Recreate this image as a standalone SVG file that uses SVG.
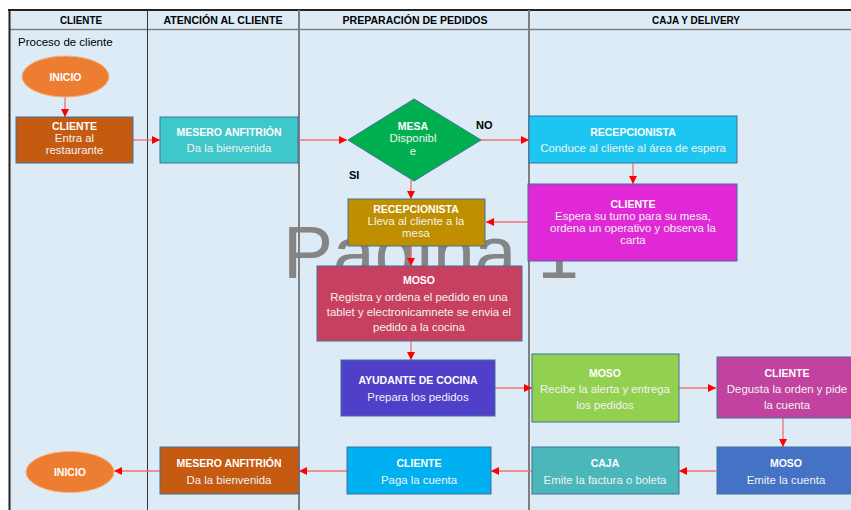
<svg xmlns="http://www.w3.org/2000/svg" width="851" height="510" viewBox="0 0 851 510">
<defs>
<marker id="ah" markerUnits="userSpaceOnUse" markerWidth="9" markerHeight="9" refX="8" refY="4" orient="auto">
<path d="M0,0 L8,4 L0,8 z" fill="#FF0000"/>
</marker>
<style>
.hdr{font-family:"Liberation Sans",Arial,sans-serif;font-weight:bold;font-size:10.5px;fill:#000;text-anchor:middle}
.t{font-family:"Liberation Sans",Arial,sans-serif;font-weight:bold;font-size:10.5px;fill:#fff;text-anchor:middle}
.b{font-family:"Liberation Sans",Arial,sans-serif;font-size:11.4px;fill:#F2F2F2;text-anchor:middle}
.box{stroke:#41719C;stroke-width:1}
.c{fill:none;stroke:#F07272;stroke-width:1.3;marker-end:url(#ah)}
.lbl{font-family:"Liberation Sans",Arial,sans-serif;font-weight:bold;font-size:11px;fill:#000}
</style>
</defs>
<rect x="0" y="0" width="851" height="510" fill="#FFFFFF"/>
<rect x="9" y="10" width="842" height="500" fill="#DDEBF7"/>
<text x="283" y="278" font-family="Liberation Sans,Arial,sans-serif" font-size="75" fill="#858585">Pagina 1</text>
<g id="lanes">
<line x1="9" y1="29.5" x2="851" y2="29.5" stroke="#7F7F7F" stroke-width="1.5"/>
<line x1="8" y1="10" x2="851" y2="10" stroke="#222" stroke-width="2"/>
<line x1="9.5" y1="9" x2="9.5" y2="510" stroke="#222" stroke-width="2"/>
<line x1="147.5" y1="10" x2="147.5" y2="510" stroke="#333" stroke-width="1"/>
<line x1="299" y1="10" x2="299" y2="510" stroke="#7F7F7F" stroke-width="2"/>
<line x1="529" y1="10" x2="529" y2="510" stroke="#7F7F7F" stroke-width="2"/>
<text class="hdr" x="81" y="24" textLength="42" lengthAdjust="spacingAndGlyphs">CLIENTE</text>
<text class="hdr" x="223" y="24" textLength="119" lengthAdjust="spacingAndGlyphs">ATENCIÓN AL CLIENTE</text>
<text class="hdr" x="415" y="24" textLength="145" lengthAdjust="spacingAndGlyphs">PREPARACIÓN DE PEDIDOS</text>
<text class="hdr" x="696" y="24" textLength="88" lengthAdjust="spacingAndGlyphs">CAJA Y DELIVERY</text>
<text x="18" y="46" font-family="Liberation Sans,Arial,sans-serif" font-size="11.5" fill="#000">Proceso de cliente</text>
</g>
<g id="connectors">
<line class="c" x1="65" y1="97" x2="65" y2="117"/>
<line class="c" x1="133" y1="140" x2="160" y2="140"/>
<line class="c" x1="298" y1="140" x2="347" y2="140"/>
<line class="c" x1="481" y1="140" x2="529" y2="140"/>
<line class="c" x1="411" y1="180" x2="411" y2="199"/>
<line class="c" x1="633" y1="163" x2="633" y2="184"/>
<line class="c" x1="528" y1="222" x2="486" y2="222"/>
<line class="c" x1="411" y1="246" x2="411" y2="266"/>
<line class="c" x1="411" y1="341" x2="411" y2="360"/>
<line class="c" x1="495" y1="388" x2="532" y2="388"/>
<line class="c" x1="679" y1="388" x2="716" y2="388"/>
<line class="c" x1="783" y1="418" x2="783" y2="447"/>
<line class="c" x1="716" y1="471" x2="679" y2="471"/>
<line class="c" x1="532" y1="471" x2="491" y2="471"/>
<line class="c" x1="347" y1="471" x2="299" y2="471"/>
<line class="c" x1="160" y1="471" x2="114" y2="471"/>
<text class="lbl" x="476" y="129">NO</text>
<text class="lbl" x="349" y="179">SI</text>
</g>
<g id="inicio1">
<ellipse cx="65.5" cy="76.5" rx="43.5" ry="20.5" fill="#ED7D31" stroke="#F4B183" stroke-width="1"/>
<text class="t" x="65.5" y="80.5">INICIO</text>
</g>
<g id="cliente1">
<rect class="box" x="16" y="117" width="117" height="46" fill="#C55A11"/>
<text class="t" x="74.5" y="130">CLIENTE</text>
<text class="b" x="74.5" y="142">Entra al</text>
<text class="b" x="74.5" y="154">restaurante</text>
</g>
<g id="mesero1">
<rect class="box" x="160" y="117" width="138" height="46" fill="#3FC8CB"/>
<text class="t" x="229" y="136">MESERO ANFITRIÓN</text>
<text class="b" x="229" y="152">Da la bienvenida</text>
</g>
<g id="mesa">
<polygon points="414,99 481,140 414,181 348,140" fill="#00B050" stroke="#41719C" stroke-width="1"/>
<text class="t" x="413" y="130">MESA</text>
<text class="b" x="413" y="142">Disponibl</text>
<text class="b" x="413" y="155">e</text>
</g>
<g id="recepcionista1">
<rect class="box" x="529" y="116" width="208" height="47" fill="#1CC6F0"/>
<text class="t" x="633" y="136">RECEPCIONISTA</text>
<text class="b" x="633" y="152">Conduce al cliente al área de espera</text>
</g>
<g id="cliente2">
<rect class="box" x="528" y="184" width="209" height="77" fill="#E128D6"/>
<text class="t" x="633" y="208">CLIENTE</text>
<text class="b" x="633" y="220">Espera su turno para su mesa,</text>
<text class="b" x="633" y="232">ordena un operativo y observa la</text>
<text class="b" x="633" y="244">carta</text>
</g>
<g id="recepcionista2">
<rect class="box" x="348" y="199" width="137" height="47" fill="#BF8F00"/>
<text class="t" x="416" y="213">RECEPCIONISTA</text>
<text class="b" x="416" y="225">Lleva al cliente a la</text>
<text class="b" x="416" y="237">mesa</text>
</g>
<g id="moso1">
<rect class="box" x="317" y="266" width="205" height="75" fill="#C8405F"/>
<text class="t" x="419" y="284">MOSO</text>
<text class="b" x="419" y="301">Registra y ordena el pedido en una</text>
<text class="b" x="419" y="316">tablet y electronicamnete se envia el</text>
<text class="b" x="419" y="331">pedido a la cocina</text>
</g>
<g id="ayudante">
<rect class="box" x="341" y="360" width="154" height="56" fill="#4F3FC9"/>
<text class="t" x="418" y="384">AYUDANTE DE COCINA</text>
<text class="b" x="418" y="401">Prepara los pedidos</text>
</g>
<g id="moso2">
<rect class="box" x="532" y="354" width="147" height="68" fill="#92D050"/>
<text class="t" x="605" y="377">MOSO</text>
<text class="b" x="605" y="393">Recibe la alerta y entrega</text>
<text class="b" x="605" y="409">los pedidos</text>
</g>
<g id="cliente3">
<rect class="box" x="717" y="357" width="142" height="61" fill="#C2429F"/>
<text class="t" x="787" y="377">CLIENTE</text>
<text class="b" x="787" y="393">Degusta la orden y pide</text>
<text class="b" x="787" y="409">la cuenta</text>
</g>
<g id="moso3">
<rect class="box" x="717" y="447" width="140" height="47" fill="#4472C4"/>
<text class="t" x="786" y="467">MOSO</text>
<text class="b" x="786" y="484">Emite la cuenta</text>
</g>
<g id="caja">
<rect class="box" x="532" y="447" width="147" height="47" fill="#4BB7BB"/>
<text class="t" x="605" y="467">CAJA</text>
<text class="b" x="605" y="484">Emite la factura o boleta</text>
</g>
<g id="cliente4">
<rect class="box" x="347" y="447" width="144" height="47" fill="#00B0F0"/>
<text class="t" x="419" y="467">CLIENTE</text>
<text class="b" x="419" y="484">Paga la cuenta</text>
</g>
<g id="mesero2">
<rect class="box" x="160" y="447" width="139" height="47" fill="#C55A11"/>
<text class="t" x="229" y="467">MESERO ANFITRIÓN</text>
<text class="b" x="229" y="484">Da la bienvenida</text>
</g>
<g id="inicio2">
<ellipse cx="70" cy="472" rx="44" ry="20.5" fill="#ED7D31" stroke="#F4B183" stroke-width="1"/>
<text class="t" x="70" y="476">INICIO</text>
</g>
</svg>
